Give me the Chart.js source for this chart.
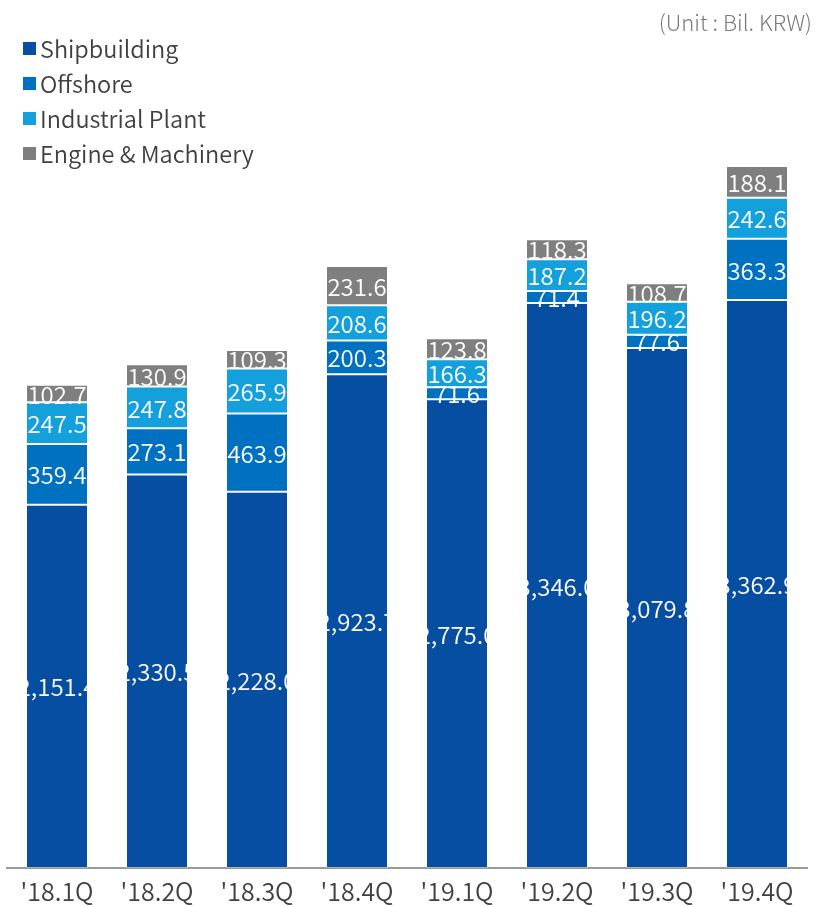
<!DOCTYPE html>
<html>
<head>
<meta charset="utf-8">
<script src="https://cdn.jsdelivr.net/npm/chart.js@4.4.1/dist/chart.umd.min.js"></script>
<style>
  body { margin: 0; background: #fff; }
  #wrap { position: relative; width: 820px; height: 907px; }
  #chart { position: absolute; left: 0; top: 0; }
  .unit { position: absolute; right: 8px; top: 5px; font: 300 22px "Noto Sans CJK KR", "Noto Sans", sans-serif; color: #7a7a7a; }
  .legend { position: absolute; left: 23px; top: 31px; font: 350 23.5px "Noto Sans CJK KR", "Noto Sans", sans-serif; color: #404040; }
  .legend div { height: 35px; line-height: 35px; display: flex; align-items: center; }
  .legend span { display: inline-block; width: 13px; height: 13px; margin-right: 4px; }
</style>
</head>
<body>
<div id="wrap">
  <canvas id="chart" width="820" height="907"></canvas>
  <div class="unit">(Unit : Bil. KRW)</div>
  <div class="legend" id="legend"></div>
</div>
<script>
//Quarter labels
const quarters = ["'18.1Q", "'18.2Q", "'18.3Q", "'18.4Q", "'19.1Q", "'19.2Q", "'19.3Q", "'19.4Q"];
//Sales by division (Bil. KRW)
const shipbuilding = [2151.4, 2330.5, 2228.0, 2923.7, 2775.0, 3346.0, 3079.8, 3362.9];
const offshore = [359.4, 273.1, 463.9, 200.3, 71.6, 71.4, 77.6, 363.3];
const industrialPlant = [247.5, 247.8, 265.9, 208.6, 166.3, 187.2, 196.2, 242.6];
const engineMachinery = [102.7, 130.9, 109.3, 231.6, 123.8, 118.3, 108.7, 188.1];

const seriesNames = ["Shipbuilding", "Offshore", "Industrial Plant", "Engine & Machinery"];
const seriesColors = ["#054ea2", "#0070c0", "#13a0dc", "#7f7f7f"];
const seriesData = [shipbuilding, offshore, industrialPlant, engineMachinery];

//Largest stack sets the top of the scale
const totals = quarters.map((q, i) => seriesData.reduce((s, d) => s + d[i], 0));
const yMax = Math.max(...totals);

//HTML legend
const legend = document.getElementById("legend");
seriesNames.forEach((name, i) => {
  const row = document.createElement("div");
  row.innerHTML = `<span style="background:${seriesColors[i]}"></span>${name}`;
  legend.appendChild(row);
});

const labelFont = '350 24px "Noto Sans CJK KR", "Noto Sans", sans-serif';

//Draw values inside each segment, clipped to the bar column
const segmentLabels = {
  id: "segmentLabels",
  afterDatasetsDraw(chart) {
    const ctx = chart.ctx;
    const metas = chart.data.datasets.map((d, i) => chart.getDatasetMeta(i));
    quarters.forEach((q, i) => {
      const first = metas[0].data[i];
      const last = metas[metas.length - 1].data[i];
      const half = first.width / 2;
      ctx.save();
      ctx.beginPath();
      ctx.rect(first.x - half, last.y, first.width, first.base - last.y);
      ctx.clip();
      ctx.fillStyle = "#fff";
      ctx.font = labelFont;
      ctx.textAlign = "center";
      ctx.textBaseline = "middle";
      metas.forEach((meta, d) => {
        const el = meta.data[i];
        const value = seriesData[d][i];
        const text = value.toLocaleString("en-US", { minimumFractionDigits: 1, maximumFractionDigits: 1 });
        ctx.fillText(text, el.x, (el.y + el.base) / 2 + 1);
      });
      ctx.restore();
    });
  },
};

new Chart(document.getElementById("chart"), {
  type: "bar",
  data: {
    labels: quarters,
    datasets: seriesNames.map((name, i) => ({
      label: name,
      data: seriesData[i],
      backgroundColor: seriesColors[i],
      borderColor: "rgba(255,255,255,0.22)",
      borderWidth: 1,
      borderSkipped: false,
      barPercentage: 0.62,
      categoryPercentage: 1,
    })),
  },
  options: {
    responsive: false,
    animation: false,
    layout: { padding: { left: 7, right: 13, top: 166, bottom: 0 } },
    plugins: { legend: { display: false }, tooltip: { enabled: false } },
    scales: {
      x: {
        stacked: true,
        grid: { display: false },
        border: { color: "#9a9a9a", width: 2 },
        ticks: {
          color: "#404040",
          font: { family: '"Noto Sans CJK KR", "Noto Sans", sans-serif', size: 25, weight: 350, lineHeight: 1 },
          padding: 3,
          maxRotation: 0,
        },
      },
      y: {
        stacked: true,
        display: false,
        min: 0,
        max: yMax,
      },
    },
  },
  plugins: [segmentLabels],
});
</script>
</body>
</html>
